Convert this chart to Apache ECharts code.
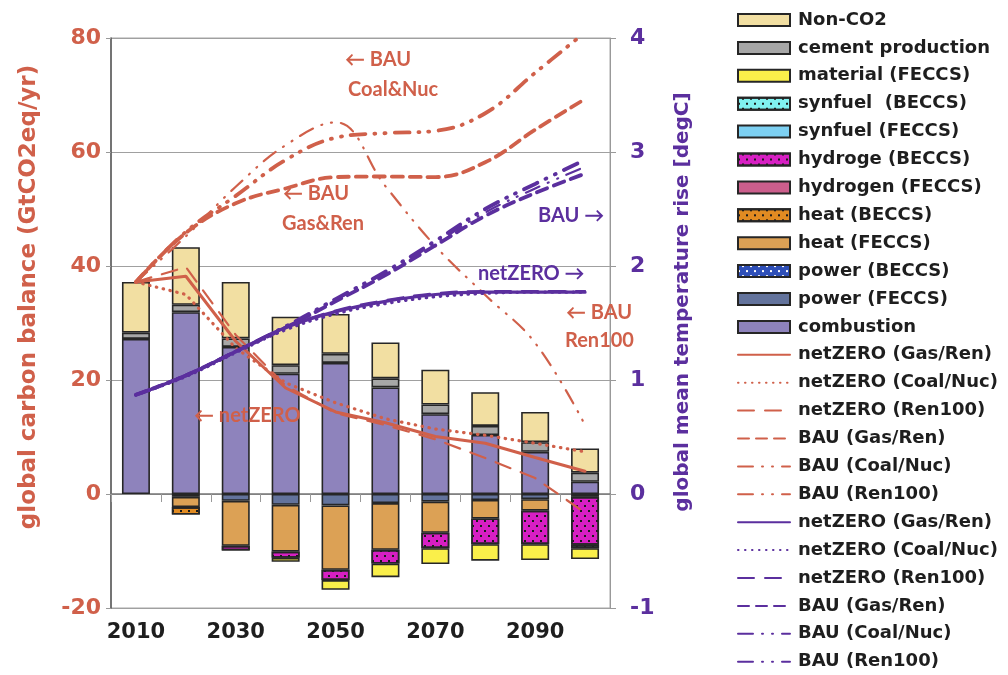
<!DOCTYPE html>
<html>
<head>
<meta charset="utf-8">
<script src="https://cdn.jsdelivr.net/npm/echarts@6/dist/echarts.min.js"></script>
<style>
  html, body { margin: 0; padding: 0; background: #ffffff; }
  #chart { width: 1008px; height: 675px; }
</style>
</head>
<body>
<div id="chart"></div>
<script>
// Decades on the horizontal axis
const years = ['2010', '2020', '2030', '2040', '2050', '2060', '2070', '2080', '2090', '2100'];

// Carbon balance components (GtCO2eq/yr); removals are negative
const combustion   = [27.2, 31.9, 25.8, 21.1, 23.0, 18.7, 14.0, 10.35, 7.4, 2.15];
const cement       = [1.1, 1.3, 1.5, 1.5, 1.6, 1.6, 1.7, 1.6, 1.7, 1.6];
const nonCO2       = [8.9, 10.1, 9.9, 8.5, 7.0, 6.3, 6.1, 5.9, 5.3, 4.25];
const powerFECCS   = [0, -0.5, -1.2, -1.9, -2.0, -1.6, -1.35, -1.05, -0.9, -0.5];
const powerBECCS   = [0, 0, 0, 0, 0, 0, 0, 0, 0, 0];
const heatFECCS    = [0, -1.8, -7.9, -8.2, -11.3, -8.2, -5.45, -3.25, -2.0, 0];
const heatBECCS    = [0, -1.3, 0, 0, 0, 0, 0, 0, 0, 0];
const hydrogenFECCS = [0, 0, 0, 0, 0, 0, 0, 0, 0, 0];
const hydrogeBECCS = [0, 0, -0.8, -1.1, -1.8, -2.4, -2.7, -4.5, -5.9, -8.4];
const synfuelFECCS = [0, 0, 0, 0, 0, 0, 0, 0, 0, 0];
const synfuelBECCS = [0, 0, 0, 0, 0, 0, 0, 0, 0, -0.6];
const materialFECCS = [0, 0, 0, -0.7, -1.7, -2.4, -2.8, -2.9, -2.8, -1.9];

// Emission pathways (GtCO2eq/yr)
const nzGasRen   = [37.2, 38.2, 26.8, 18.6, 14.4, 12.5, 10.1, 8.9, 6.4, 4.0];
const nzCoalNuc  = [37.2, 35.0, 25.6, 19.5, 16.0, 13.2, 11.4, 10.3, 8.9, 7.4];
const nzRen100   = [37.2, 39.8, 27.9, 19.0, 14.2, 12.1, 9.6, 6.3, 2.8, -3.3];
const bauGasRen  = [37.2, 45.8, 51.0, 53.6, 55.6, 55.7, 55.6, 58.2, 63.9, 69.3];
const bauCoalNuc = [37.2, 46.0, 52.3, 58.6, 62.5, 63.3, 63.7, 66.8, 73.9, 81.0];
const bauRen100  = [37.2, 45.2, 53.9, 61.2, 65.2, 54.0, 43.5, 34.9, 26.5, 12.1];

// Global mean temperature rise (degC)
const tNzGasRen   = [0.87, 1.04, 1.25, 1.46, 1.60, 1.69, 1.75, 1.77, 1.77, 1.77];
const tNzCoalNuc  = [0.87, 1.03, 1.24, 1.44, 1.58, 1.67, 1.73, 1.76, 1.77, 1.77];
const tNzRen100   = [0.87, 1.04, 1.25, 1.46, 1.61, 1.70, 1.76, 1.78, 1.78, 1.78];
const tBauGasRen  = [0.87, 1.04, 1.25, 1.46, 1.69, 1.92, 2.18, 2.44, 2.64, 2.81];
const tBauCoalNuc = [0.87, 1.04, 1.25, 1.47, 1.71, 1.95, 2.22, 2.50, 2.72, 2.93];
const tBauRen100  = [0.87, 1.04, 1.25, 1.47, 1.70, 1.94, 2.20, 2.47, 2.68, 2.87];

const RED = '#D0604A';
const PURPLE = '#5B2F9E';
const EDGE = '#262626';

const dots = (color) => ({
  symbol: 'rect', symbolSize: 1, color: color,
  dashArrayX: [[1.6, 5.4], [0, 3.5, 1.6, 1.9]], dashArrayY: [1.6, 2.2]
});

function barSeries(name, values, color, decal) {
  return {
    name: name, type: 'bar', stack: 'balance', barWidth: 28,
    data: values.map(v => (v === 0 ? '-' : v)),
    itemStyle: Object.assign({ color: color, borderColor: EDGE, borderWidth: 1.6 },
      decal ? { decal: decal } : {}),
    z: 2
  };
}

// stacking order: first series sits next to zero
const bars = [
  barSeries('combustion', combustion, '#8E83BC'),
  barSeries('power (FECCS)', powerFECCS, '#63739C'),
  barSeries('power (BECCS)', powerBECCS, '#2E4FB8', dots('#ffffff')),
  barSeries('heat (FECCS)', heatFECCS, '#DCA155'),
  barSeries('heat (BECCS)', heatBECCS, '#E18B22', dots('#1a1a1a')),
  barSeries('hydrogen (FECCS)', hydrogenFECCS, '#CC5E8C'),
  barSeries('hydroge (BECCS)', hydrogeBECCS, '#D71FC3', dots('#1a1a1a')),
  barSeries('synfuel (FECCS)', synfuelFECCS, '#7DD0F2'),
  barSeries('synfuel  (BECCS)', synfuelBECCS, '#80F2F0', dots('#1a1a1a')),
  barSeries('material (FECCS)', materialFECCS, '#FAEF4A'),
  barSeries('cement production', cement, '#A7A7A7'),
  barSeries('Non-CO2', nonCO2, '#F2DFA2')
];

function lineSeries(name, values, color, width, dash, axis, smooth) {
  return {
    name: name, type: 'line', yAxisIndex: axis, data: values,
    symbol: 'none', smooth: smooth, z: 5,
    itemStyle: { color: color },
    lineStyle: { color: color, width: width, type: dash, cap: 'round' }
  };
}

const SOLID = 'solid';
const DOT = [0.5, 6.5];
const LONGDASH = [16, 11];
const DASH = [11, 7];
const DASHDOTDOT = [15, 9, 1, 9, 1, 9];

const lines = [
  lineSeries('netZERO (Gas/Ren)', nzGasRen, RED, 3, SOLID, 0, false),
  lineSeries('netZERO (Coal/Nuc)', nzCoalNuc, RED, 3.2, DOT, 0, false),
  lineSeries('netZERO (Ren100)', nzRen100, RED, 2.2, LONGDASH, 0, false),
  lineSeries('BAU (Gas/Ren)', bauGasRen, RED, 3.8, DASH, 0, 0.4),
  lineSeries('BAU (Coal/Nuc)', bauCoalNuc, RED, 3.8, DASHDOTDOT, 0, 0.4),
  lineSeries('BAU (Ren100)', bauRen100, RED, 2.2, DASHDOTDOT, 0, 0.4),
  lineSeries('netZERO (Gas/Ren) ', tNzGasRen, PURPLE, 3.2, SOLID, 1, 0.4),
  lineSeries('netZERO (Coal/Nuc) ', tNzCoalNuc, PURPLE, 3.2, DOT, 1, 0.4),
  lineSeries('netZERO (Ren100) ', tNzRen100, PURPLE, 2.2, LONGDASH, 1, 0.4),
  lineSeries('BAU (Gas/Ren) ', tBauGasRen, PURPLE, 3.8, DASH, 1, 0.4),
  lineSeries('BAU (Coal/Nuc) ', tBauCoalNuc, PURPLE, 3.8, DASHDOTDOT, 1, 0.4),
  lineSeries('BAU (Ren100) ', tBauRen100, PURPLE, 2.2, DASHDOTDOT, 1, 0.4)
];

const barLegend = ['Non-CO2', 'cement production', 'material (FECCS)', 'synfuel  (BECCS)',
  'synfuel (FECCS)', 'hydroge (BECCS)', 'hydrogen (FECCS)', 'heat (BECCS)', 'heat (FECCS)',
  'power (BECCS)', 'power (FECCS)', 'combustion'];
const lineLegend = lines.map(s => s.name);

const labelFont = { fontFamily: 'DejaVu Sans', fontWeight: 'bold' };
const noteFont = { fontFamily: 'Lato', fontWeight: 'bold', fontSize: 20 };

function note(text, x, y, color) {
  return { type: 'text', left: x, top: y, z: 10,
    style: Object.assign({ text: text, fill: color }, noteFont) };
}

const option = {
  animation: false,
  backgroundColor: '#ffffff',
  grid: { left: 111, right: 398, top: 38, bottom: 67, show: true, borderColor: '#a6a6a6', borderWidth: 1 },
  legend: {
    orient: 'vertical', left: 737, top: 11, padding: 0, height: 664,
    itemWidth: 52, itemHeight: 12, itemGap: 9.9,
    textStyle: Object.assign({ fontSize: 18, color: '#1e1e1e', padding: [0, 0, 0, 3] }, labelFont),
    formatter: n => n.trim(),
    data: barLegend.map(n => ({ name: n, icon: 'rect' }))
      .concat(lineLegend.map(n => ({ name: n, itemStyle: { opacity: 0 } })))
  },
  xAxis: {
    type: 'category', data: years, boundaryGap: true,
    axisLine: { lineStyle: { color: '#777', width: 1.5 } },
    axisTick: { show: true, interval: 0, length: 8, lineStyle: { color: '#999' } },
    axisLabel: Object.assign({ interval: 1, fontSize: 21, color: '#1e1e1e', margin: 14 }, labelFont)
  },
  yAxis: [
    {
      type: 'value', min: -20, max: 80, interval: 20, position: 'left',
      name: 'global carbon balance (GtCO2eq/yr)', nameLocation: 'middle', nameRotate: 90, nameGap: 70,
      nameTextStyle: Object.assign({ color: RED, fontSize: 23, padding: [0, 0, 0, 52] }, labelFont),
      axisLine: { show: true, lineStyle: { color: '#555', width: 1.5 } },
      axisTick: { show: true, length: 5, lineStyle: { color: '#999' } },
      axisLabel: Object.assign({ color: RED, fontSize: 22, margin: 10 }, labelFont),
      splitLine: { show: true, lineStyle: { color: '#a0a0a0', width: 1 } }
    },
    {
      type: 'value', min: -1, max: 4, interval: 1, position: 'right',
      name: 'global mean temperature rise [degC]', nameLocation: 'middle', nameRotate: 90, nameGap: 63,
      nameTextStyle: Object.assign({ color: PURPLE, fontSize: 20, padding: [0, 0, 0, 42] }, labelFont),
      axisLine: { show: true, lineStyle: { color: '#999', width: 1 } },
      axisTick: { show: true, length: 6, lineStyle: { color: '#999' } },
      axisLabel: Object.assign({ color: PURPLE, fontSize: 22, margin: 20 }, labelFont),
      splitLine: { show: false }
    }
  ],
  graphic: [
    note('\u2190 BAU', 345, 50, RED),
    note('Coal&Nuc', 348, 80, RED),
    note('\u2190 BAU', 283, 184, RED),
    note('Gas&Ren', 282, 214, RED),
    note('BAU \u2192', 538, 206, PURPLE),
    note('netZERO \u2192', 478, 264, PURPLE),
    note('\u2190 BAU', 566, 303, RED),
    note('Ren100', 565, 331, RED),
    note('\u2190 netZERO', 194, 406, RED)
  ],
  series: bars.concat(lines)
};

const chart = echarts.init(document.getElementById('chart'), null, { renderer: 'canvas' });
chart.setOption(option);
</script>
</body>
</html>
